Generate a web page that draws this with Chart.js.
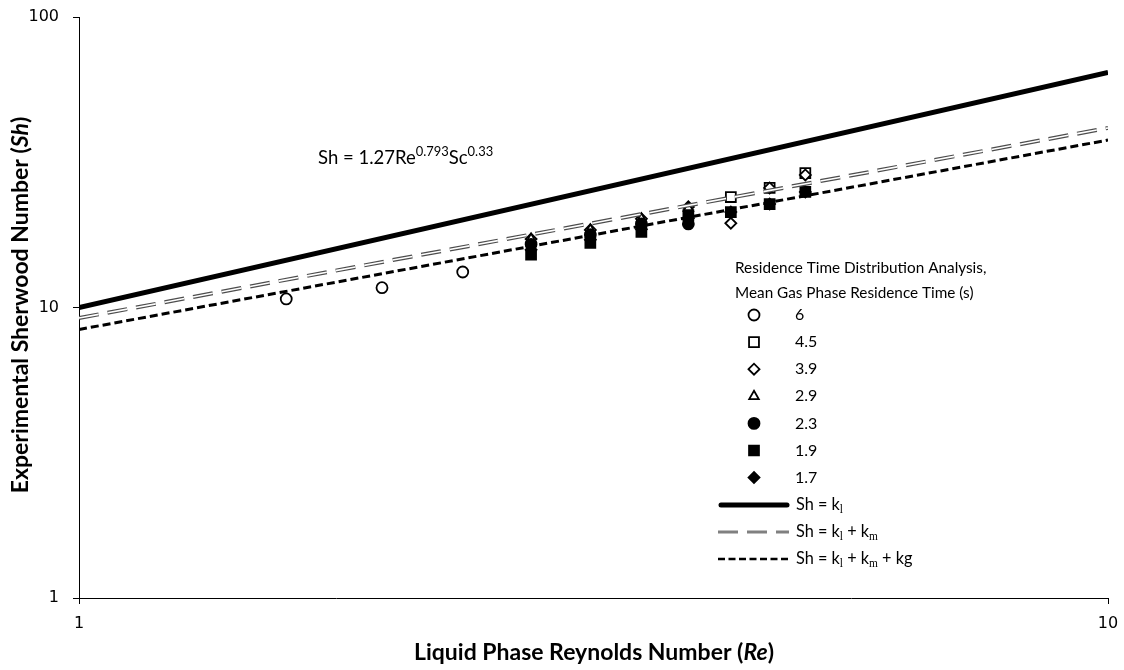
<!DOCTYPE html>
<html>
<head>
<meta charset="utf-8">
<script src="https://cdn.jsdelivr.net/npm/chart.js@4.4.1/dist/chart.umd.min.js"></script>
<style>
  html, body { margin: 0; padding: 0; background: #fff; }
  #wrap { width: 1124px; height: 670px; }
</style>
</head>
<body>
<div id="wrap"><canvas id="shChart" width="1124" height="670"></canvas></div>
<script>
// 平均ガス滞留時間ごとの実験値 (Re, Sh)
const re6 = [1.59, 1.97, 2.36];
const sh6 = [10.7, 11.7, 13.25];
const reRuns = [2.75, 3.14, 3.52, 3.91, 4.30, 4.69, 5.08];
const sh45 = [null, null, null, null, 24.0, 25.8, 29.0];
const sh39 = [17.2, 18.5, 20.2, 22.2, 19.5, 25.8, 28.6];
const sh29 = [17.2, 18.5, 20.2, 22.0, null, null, null];
const sh23 = [16.5, 17.8, 19.4, 19.4, null, null, null];
const sh19 = [15.2, 16.7, 18.2, 20.8, 21.3, 22.7, 25.0];
const sh17 = [15.8, 17.1, 18.6, 20.3, 21.3, 22.7, 25.0];

// 相関式の直線 (両端の値)
const lineRe = [1, 10];
const shKl = [10.0, 64.5];
const shKlKm = [9.2, 41.5];
const shKlKmKg = [8.4, 37.7];

// 目盛り
const xTicks = [1, 10];
const yTicks = [1, 10, 100];

// 凡例
const legendTitle = ['Residence Time Distribution Analysis,', 'Mean Gas Phase Residence Time (s)'];
const legendTimes = ['6', '4.5', '3.9', '2.9', '2.3', '1.9', '1.7'];

const FONT = 'Lato, "Open Sans", sans-serif';
const TICK_FONT = '"DejaVu Sans", sans-serif';

function pts(xs, ys) {
    return xs.map((x, i) => ({ x: x, y: ys[i] })).filter(p => p.y != null);
}

// マーカー系列の設定
const markerSets = [
    { label: legendTimes[0], data: pts(re6, sh6), style: 'circle', r: 5.5, fill: '#fff' },
    { label: legendTimes[1], data: pts(reRuns, sh45), style: 'rect', r: 7, fill: '#fff' },
    { label: legendTimes[2], data: pts(reRuns, sh39), style: 'rectRot', r: 5.5, fill: '#fff' },
    { label: legendTimes[3], data: pts(reRuns, sh29), style: 'triangle', r: 5.5, fill: '#fff' },
    { label: legendTimes[4], data: pts(reRuns, sh23), style: 'circle', r: 5.5, fill: '#000' },
    { label: legendTimes[5], data: pts(reRuns, sh19), style: 'rect', r: 7, fill: '#000' },
    { label: legendTimes[6], data: pts(reRuns, sh17), style: 'rectRot', r: 5.5, fill: '#000' }
];

const datasets = markerSets.map((m, i) => ({
    label: m.label,
    data: m.data,
    pointStyle: m.style,
    pointRadius: m.r,
    pointHoverRadius: m.r,
    pointBackgroundColor: m.fill,
    pointBorderColor: '#000',
    pointBorderWidth: 1.8,
    showLine: false,
    order: 20 - i
}));

// 直線
datasets.push({
    label: 'kl', data: pts(lineRe, shKl), showLine: true, pointRadius: 0,
    borderColor: '#000', borderWidth: 5, order: 3
});
datasets.push({
    label: 'klkm', data: pts(lineRe, shKlKm), showLine: true, pointRadius: 0,
    borderColor: '#4d4d4d', borderWidth: 4, borderDash: [20, 9], order: 2
});
datasets.push({
    label: 'klkm-inner', data: pts(lineRe, shKlKm), showLine: true, pointRadius: 0,
    borderColor: '#fff', borderWidth: 1.6, borderDash: [20, 9], order: 1
});
datasets.push({
    label: 'klkmkg', data: pts(lineRe, shKlKmKg), showLine: true, pointRadius: 0,
    borderColor: '#000', borderWidth: 3, borderDash: [8, 4], order: 0
});

// 文字列を上付き・下付きを含めて描く
function runFont(r, size) {
    const s = r.sub || r.sup ? size * 0.7 : size;
    const fam = r.serif ? '"Liberation Serif", serif' : FONT;
    return `${r.italic ? 'italic ' : ''}${r.bold ? 'bold ' : ''}${s}px ${fam}`;
}

function drawRuns(ctx, x, y, runs, size) {
    let cx = x;
    runs.forEach(r => {
        ctx.font = runFont(r, size);
        const dy = r.sub ? size * 0.28 : (r.sup ? -size * 0.35 : 0);
        ctx.fillText(r.t, cx, y + dy);
        cx += ctx.measureText(r.t).width;
    });
    return cx - x;
}

function runsWidth(ctx, runs, size) {
    let w = 0;
    runs.forEach(r => {
        ctx.font = runFont(r, size);
        w += ctx.measureText(r.t).width;
    });
    return w;
}

const lineLabels = [
    [{ t: 'Sh = k' }, { t: 'l', sub: true, serif: true }],
    [{ t: 'Sh = k' }, { t: 'l', sub: true, serif: true }, { t: ' + k' }, { t: 'm', sub: true, serif: true }],
    [{ t: 'Sh = k' }, { t: 'l', sub: true, serif: true }, { t: ' + k' }, { t: 'm', sub: true, serif: true }, { t: ' + kg' }]
];

const xTitle = [
    { t: 'Liquid Phase Reynolds Number (', bold: true },
    { t: 'Re', bold: true, italic: true },
    { t: ')', bold: true }
];
const yTitle = [
    { t: 'Experimental Sherwood Number (', bold: true },
    { t: 'Sh', bold: true, italic: true },
    { t: ')', bold: true }
];
const corrText = [
    { t: 'Sh = 1.27Re' }, { t: '0.793', sup: true }, { t: 'Sc' }, { t: '0.33', sup: true }
];

const LEG = 15.3;

const decorPlugin = {
    id: 'decor',
    afterDraw(chart) {
        const ctx = chart.ctx;
        ctx.save();
        ctx.fillStyle = '#000';
        ctx.textBaseline = 'middle';
        ctx.textAlign = 'left';

        // 相関式
        drawRuns(ctx, 318, 158, corrText, 18.5);

        // 凡例タイトル
        ctx.font = `${LEG}px ${FONT}`;
        ctx.fillText(legendTitle[0], 735, 268);
        ctx.fillText(legendTitle[1], 735, 293);

        // 凡例: マーカー
        markerSets.forEach((m, i) => {
            const y = 315 + i * 27.1;
            ctx.fillStyle = m.fill;
            ctx.strokeStyle = '#000';
            ctx.lineWidth = 1.8;
            Chart.helpers.drawPoint(ctx, { pointStyle: m.style, radius: m.r, rotation: 0, borderWidth: 1.8 }, 754, y);
            ctx.fillStyle = '#000';
            ctx.font = `${LEG + 0.7}px ${FONT}`;
            ctx.fillText(m.label, 795, y);
        });

        // 凡例: 線
        const lineStyles = [
            { color: '#000', width: 5, dash: [], cap: 'round' },
            { color: '#808080', width: 3, dash: [20, 9], cap: 'butt' },
            { color: '#000', width: 2.5, dash: [7, 3.5], cap: 'butt' }
        ];
        lineStyles.forEach((ls, i) => {
            const y = 505 + i * 27;
            ctx.beginPath();
            ctx.strokeStyle = ls.color;
            ctx.lineWidth = ls.width;
            ctx.lineCap = ls.cap;
            ctx.setLineDash(ls.dash);
            ctx.moveTo(i === 0 ? 721 : 718, y);
            ctx.lineTo(i === 0 ? 787 : 789, y);
            ctx.stroke();
            ctx.setLineDash([]);
            ctx.fillStyle = '#000';
            drawRuns(ctx, 796, y, lineLabels[i], LEG + 1);
        });

        // 軸タイトル
        const xw = runsWidth(ctx, xTitle, 23);
        drawRuns(ctx, 594 - xw / 2, 653, xTitle, 23);

        ctx.translate(21, 305);
        ctx.rotate(-Math.PI / 2);
        const yw = runsWidth(ctx, yTitle, 23);
        drawRuns(ctx, -yw / 2, 0, yTitle, 23);
        ctx.restore();
    }
};

// ラベルのはみ出し分の余白を消して、プロット領域を layout.padding で決める
function zeroPadding(s) {
    s.paddingTop = 0;
    s.paddingBottom = 0;
    s.paddingLeft = 0;
    s.paddingRight = 0;
}

function createShChart() {
    const ctx = document.getElementById('shChart').getContext('2d');
    new Chart(ctx, {
        type: 'scatter',
        data: { datasets: datasets },
        plugins: [decorPlugin],
        options: {
            responsive: false,
            devicePixelRatio: 1,
            animation: false,
            layout: { padding: { top: 17, right: 16, left: 0, bottom: 0 } },
            plugins: {
                legend: { display: false },
                tooltip: { enabled: false }
            },
            scales: {
                x: {
                    type: 'logarithmic',
                    min: 1,
                    max: 10,
                    afterBuildTicks: s => { s.ticks = xTicks.map(v => ({ value: v })); },
                    afterFit: s => { s.height = 72; zeroPadding(s); },
                    ticks: {
                        callback: v => String(v),
                        color: '#000',
                        font: { family: TICK_FONT, size: 16 },
                        padding: 10,
                        maxRotation: 0,
                        autoSkip: false
                    },
                    grid: { drawOnChartArea: false, drawTicks: true, tickLength: 6, color: '#000' },
                    border: { color: '#000', width: 1 }
                },
                y: {
                    type: 'logarithmic',
                    min: 1,
                    max: 100,
                    afterBuildTicks: s => { s.ticks = yTicks.map(v => ({ value: v })); },
                    afterFit: s => { s.width = 79; zeroPadding(s); },
                    ticks: {
                        callback: v => String(v),
                        color: '#000',
                        font: { family: TICK_FONT, size: 16 },
                        padding: 14,
                        autoSkip: false
                    },
                    grid: { drawOnChartArea: false, drawTicks: true, tickLength: 6, color: '#000' },
                    border: { color: '#000', width: 1 }
                }
            }
        }
    });
}

createShChart();
</script>
</body>
</html>
